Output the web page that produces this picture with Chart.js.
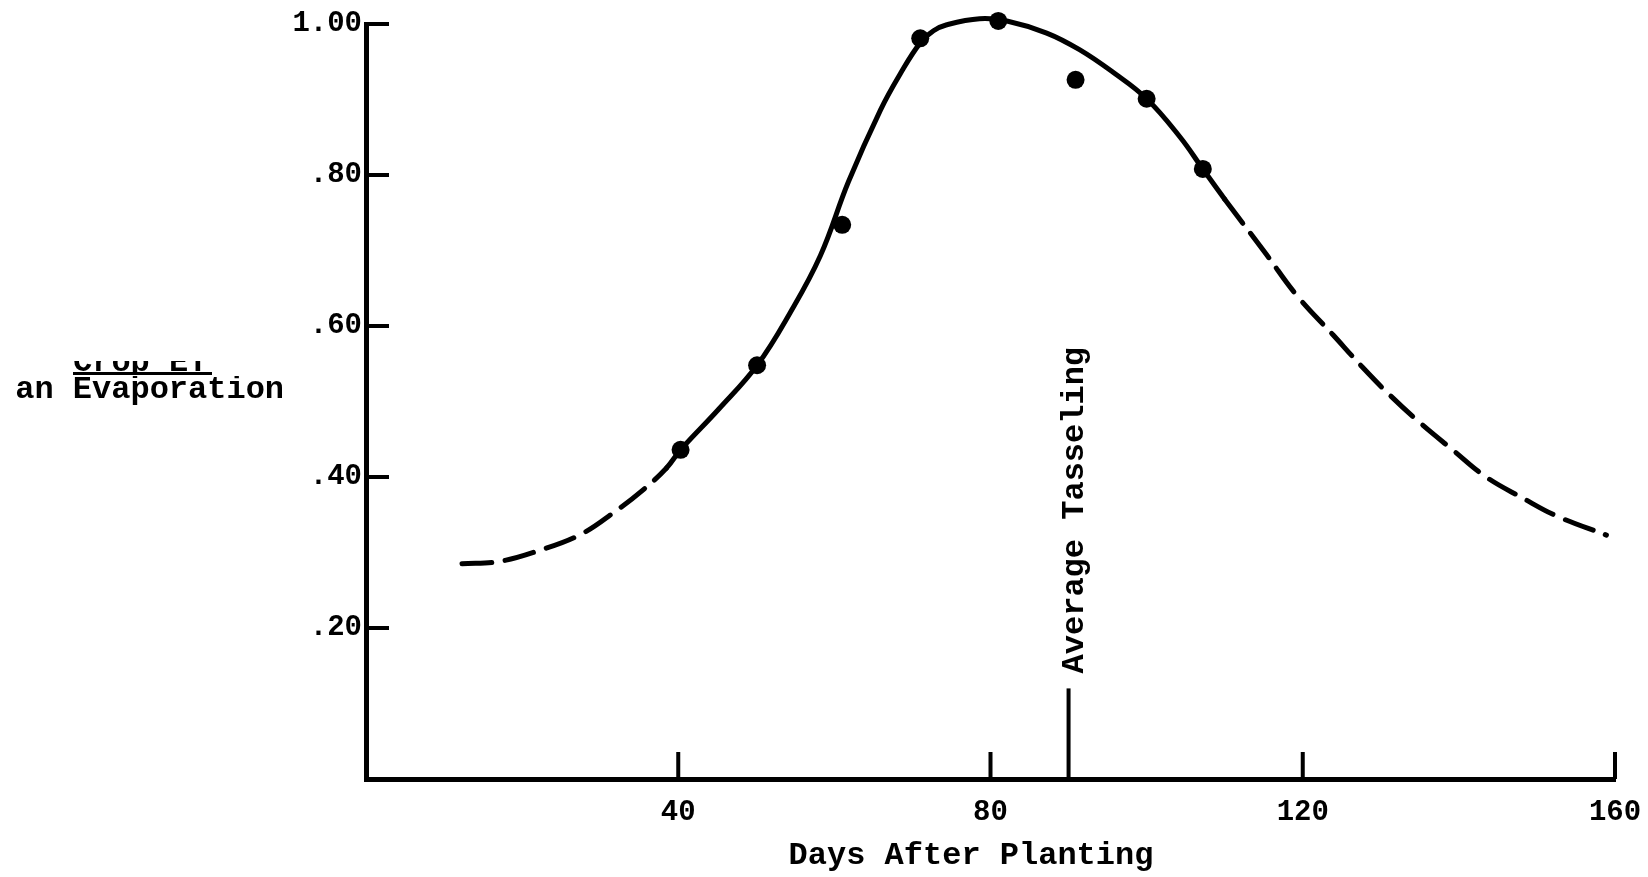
<!DOCTYPE html>
<html>
<head>
<meta charset="utf-8">
<title>Crop ET / Pan Evaporation vs Days After Planting</title>
<script src="https://cdn.jsdelivr.net/npm/chart.js@4.4.1/dist/chart.umd.min.js"></script>
<style>
  html, body { margin: 0; padding: 0; background: #fff; overflow: hidden; }
  #wrap { width: 1648px; height: 877px; }
</style>
</head>
<body>
<div id="wrap"><canvas id="chart" width="1648" height="877"></canvas></div>
<script>
/* ── Data ─────────────────────────────────────────── */
const obsDays  = [40.3, 50.1, 61.0, 71.0, 81.0, 90.9, 100.0, 107.2];
const obsRatio = [0.436, 0.548, 0.734, 0.981, 1.004, 0.926, 0.901, 0.808];

// fitted curve, traced by hand (dashed outside solidFrom..solidTo)
const curveDays  = [12.3, 17, 22, 27.5, 32, 35.5, 38.5, 40.3, 45.2, 50.1, 54.3, 58.2,
                    61.8, 65.9, 68.5, 71.0, 72.7, 74.4, 78.6, 82.1, 87.2, 91.4, 95.7, 100,
                    104.3, 107.2, 110, 115.4, 119.2, 123.9, 127.6, 131.1, 135.0, 139.2,
                    143.5, 148.2, 152.6, 158.9];
const curveRatio = [0.285, 0.288, 0.302, 0.324, 0.355, 0.383, 0.412, 0.436, 0.490, 0.548,
                    0.617, 0.693, 0.791, 0.886, 0.935, 0.975, 0.991, 0.999, 1.007, 1.004,
                    0.988, 0.966, 0.936, 0.901, 0.850, 0.808, 0.768, 0.694, 0.641, 0.588,
                    0.546, 0.509, 0.472, 0.436, 0.400, 0.372, 0.348, 0.323];
const solidFrom = 38.5;
const solidTo   = 110;

const tasselDay = 90;
const tasselTop = 0.12;

const xTickValues = [40, 80, 120, 160];
const xTickLabels = ["40", "80", "120", "160"];
const yTickValues = [0.2, 0.4, 0.6, 0.8, 1.0];
const yTickLabels = [".20", ".40", ".60", ".80", "1.00"];

const FONT = "'Liberation Mono', 'Courier New', monospace";
const INK  = "#000";

/* ── Extra marks: inward ticks, titles, tasseling note ── */
const paperMarks = {
  id: "paperMarks",
  afterDraw(chart) {
    const { ctx, scales: { x, y } } = chart;
    const x0 = x.getPixelForValue(0);
    const y0 = y.getPixelForValue(0);
    ctx.save();
    ctx.fillStyle = INK;
    ctx.strokeStyle = INK;
    ctx.lineWidth = 4;

    // tick marks point into the plot
    ctx.beginPath();
    yTickValues.forEach(v => {
      const py = y.getPixelForValue(v);
      ctx.moveTo(x0, py); ctx.lineTo(x0 + 23, py);
    });
    xTickValues.forEach(v => {
      const px = x.getPixelForValue(v);
      ctx.moveTo(px, y0); ctx.lineTo(px, y0 - 27);
    });
    ctx.stroke();

    // y title: Crop ET over Pan Evaporation (edges lost in the scan)
    ctx.font = `bold 32px ${FONT}`;
    ctx.textAlign = "left";
    ctx.textBaseline = "alphabetic";
    ctx.save();
    ctx.beginPath();
    ctx.rect(15, 361, 320, 14);
    ctx.rect(15, 376, 320, 40);
    ctx.clip();
    ctx.fillText("Pan Evaporation", -4, 398);
    ctx.fillText("Crop ET", 73, 371);
    ctx.restore();
    ctx.fillRect(73, 372, 139, 3);

    // x title
    ctx.textAlign = "center";
    ctx.fillText("Days After Planting", x.getPixelForValue(77.5), 864);

    // tasseling label, reading upward
    ctx.save();
    ctx.translate(x.getPixelForValue(tasselDay) + 14, y.getPixelForValue(tasselTop) - 15);
    ctx.rotate(-Math.PI / 2);
    ctx.textAlign = "left";
    ctx.fillText("Average Tasseling", 0, 0);
    ctx.restore();

    ctx.restore();
  }
};

/* ── Chart ───────────────────────────────────────── */
const tickFont = { family: FONT, size: 29, weight: "bold" };

new Chart(document.getElementById("chart"), {
  type: "scatter",
  data: {
    datasets: [
      {
        type: "line",
        data: curveDays.map((d, i) => ({ x: d, y: curveRatio[i] })),
        borderColor: INK,
        borderWidth: 5,
        borderCapStyle: "round",
        pointRadius: 0,
        tension: 0.4,
        fill: false,
        clip: false,
        segment: {
          borderDash: c => (c.p0.parsed.x >= solidFrom && c.p1.parsed.x <= solidTo) ? [] : [30, 13]
        }
      },
      {
        data: obsDays.map((d, i) => ({ x: d, y: obsRatio[i] })),
        pointRadius: 9,
        backgroundColor: INK,
        borderWidth: 0,
        clip: false
      },
      {
        type: "line",
        data: [{ x: tasselDay, y: 0 }, { x: tasselDay, y: tasselTop }],
        borderColor: INK,
        borderWidth: 4,
        pointRadius: 0
      }
    ]
  },
  options: {
    responsive: false,
    animation: false,
    devicePixelRatio: 1,
    layout: { padding: { top: 24, right: 33, left: 0, bottom: 0 } },
    plugins: { legend: { display: false }, tooltip: { enabled: false } },
    scales: {
      x: {
        type: "linear", min: 0, max: 160,
        grid: { display: false, drawTicks: false },
        border: { display: true, color: INK, width: 5 },
        afterBuildTicks: s => { s.ticks = xTickValues.map(v => ({ value: v })); },
        ticks: {
          callback: v => xTickLabels[xTickValues.indexOf(v)] ?? "",
          font: tickFont, color: INK, padding: 16, maxRotation: 0, autoSkip: false
        },
        afterFit: s => { s.height = 98; s.paddingLeft = 0; s.paddingRight = 0; }
      },
      y: {
        type: "linear", min: 0, max: 1,
        grid: { display: false, drawTicks: false },
        border: { display: true, color: INK, width: 5 },
        afterBuildTicks: s => { s.ticks = yTickValues.map(v => ({ value: v })); },
        ticks: {
          callback: v => yTickLabels[yTickValues.findIndex(t => Math.abs(t - v) < 1e-6)] ?? "",
          font: tickFont, color: INK, padding: 4, autoSkip: false
        },
        afterFit: s => { s.width = 366; s.paddingTop = 0; s.paddingBottom = 0; }
      }
    }
  },
  plugins: [paperMarks]
});
</script>
</body>
</html>
